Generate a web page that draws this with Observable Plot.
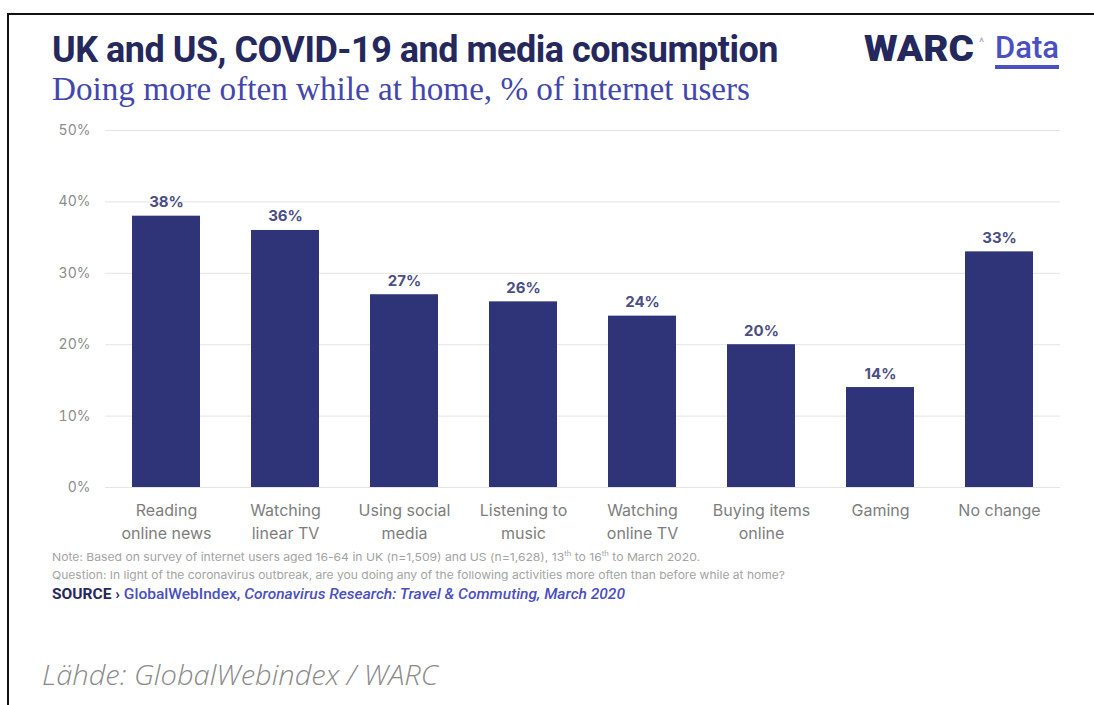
<!DOCTYPE html>
<html>
<head>
<meta charset="utf-8">
<script src="https://cdn.jsdelivr.net/npm/d3@7"></script>
<script src="https://cdn.jsdelivr.net/npm/@observablehq/plot@0.6"></script>
<style>
  html, body { margin: 0; padding: 0; background: #fff; }
  body { width: 1094px; height: 705px; position: relative; overflow: hidden; font-family: Inter, Roboto, sans-serif; }
  #frame { position: absolute; left: 7px; top: 13px; width: 1100px; height: 700px; border-top: 2px solid #111; border-left: 2px solid #111; }
  .abs { position: absolute; white-space: nowrap; transform-origin: 0 0; }
  #title { left: 52px; top: 28px; font-family: Roboto, sans-serif; font-weight: 700; font-size: 37px; color: #25285c; letter-spacing: -0.5px; }
  #subtitle { left: 52px; top: 71px; font-family: "Liberation Serif", "DejaVu Serif", serif; font-size: 33px; color: #4347ad; }
  #warc { left: 864px; top: 28px; font-family: Roboto, sans-serif; font-weight: 900; font-size: 36px; color: #25285c; }
  #caret { left: 979px; top: 36px; font-family: Roboto, sans-serif; font-size: 12px; color: #9aa0e0; }
  #data { left: 995px; top: 31px; font-family: Roboto, sans-serif; font-weight: 500; font-size: 31px; color: #4a4fc2; border-bottom: 4px solid #4a4fc2; line-height: 34px; }
  #chart { left: 0; top: 110px; }
  .note { left: 52px; font-size: 11px; color: #a3a3a3; font-family: Inter, Roboto, sans-serif; }
  #source { left: 52px; top: 585px; font-size: 15px; font-family: Roboto, sans-serif; }
  #source b { color: #25285c; }
  #source span { color: #4a4fc2; font-weight: 500; }
  #lahde { left: 42px; top: 656px; font-family: "Open Sans", sans-serif; font-style: italic; font-weight: 300; font-size: 27px; color: #8a8a8a; }
</style>
</head>
<body>
<div id="frame"></div>
<div id="title" class="abs">UK and US, COVID-19 and media consumption</div>
<div id="subtitle" class="abs">Doing more often while at home, % of internet users</div>
<div id="warc" class="abs">WARC</div>
<div id="caret" class="abs">^</div>
<div id="data" class="abs">Data</div>
<div id="chart" class="abs"></div>
<div id="note1" class="abs note" style="top:549px">Note: Based on survey of internet users aged 16-64 in UK (n=1,509) and US (n=1,628), 13<sup style="font-size:7px">th</sup> to 16<sup style="font-size:7px">th</sup> to March 2020.</div>
<div id="note2" class="abs note" style="top:568px">Question: In light of the coronavirus outbreak, are you doing any of the following activities more often than before while at home?</div>
<div id="source" class="abs"><b>SOURCE ›</b> <span>GlobalWebIndex,</span> <span><i>Coronavirus Research: Travel &amp; Commuting, March 2020</i></span></div>
<div id="lahde" class="abs">Lähde: GlobalWebindex / WARC</div>
<script>
const categories = ["Reading online news", "Watching linear TV", "Using social media", "Listening to music", "Watching online TV", "Buying items online", "Gaming", "No change"];
const tickLabels = ["Reading\nonline news", "Watching\nlinear TV", "Using social\nmedia", "Listening to\nmusic", "Watching\nonline TV", "Buying items\nonline", "Gaming", "No change"];
const values = [38, 36, 27, 26, 24, 20, 14, 33];
const yTicks = [0, 10, 20, 30, 40, 50];

const data = categories.map((c, i) => ({category: c, value: values[i]}));
const labelOf = new Map(categories.map((c, i) => [c, tickLabels[i]]));

const chart = Plot.plot({
  width: 1094,
  height: 437,
  marginTop: 20,
  marginBottom: 60,
  marginLeft: 105,
  marginRight: 34,
  style: {fontFamily: "Inter, Roboto, sans-serif", background: "transparent"},
  x: {domain: categories, paddingInner: 0.43, paddingOuter: 0.215, label: null},
  y: {domain: [0, 50], label: null},
  marks: [
    Plot.gridY(yTicks, {stroke: "#e4e4e4", strokeOpacity: 1, strokeWidth: 1}),
    Plot.axisY(yTicks, {tickSize: 0, tickPadding: 15, tickFormat: d => d + "%", fontSize: 14, fill: "#8c8c8c", label: null}),
    Plot.axisX({tickSize: 0, tickPadding: 13, tickFormat: d => labelOf.get(d), fontSize: 16, fill: "#7d7d7d", lineHeight: 1.4, label: null, textAnchor: "middle"}),
    Plot.barY(data, {x: "category", y: "value", fill: "#2f3377"}),
    Plot.text(data, {x: "category", y: "value", text: d => d.value + "%", dy: -9, lineAnchor: "bottom", fontSize: 15, fontWeight: 700, fill: "#4b4e84"})
  ]
});
document.getElementById("chart").appendChild(chart);

// fit text widths to reference layout
function fit(id, w) {
  const el = document.getElementById(id);
  const cur = el.getBoundingClientRect().width;
  el.style.transform = `scaleX(${w / cur})`;
}
fit("title", 726);
fit("subtitle", 698);
fit("warc", 110);
fit("note1", 648);
fit("note2", 733);
fit("source", 573);
fit("lahde", 396);
</script>
</body>
</html>
